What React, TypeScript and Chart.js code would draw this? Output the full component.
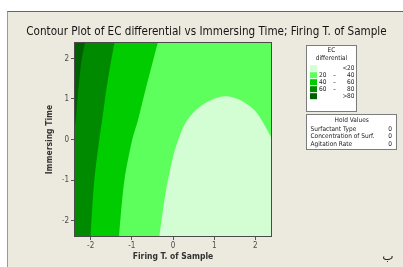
import React, { useEffect, useRef } from 'react';
import { Chart, registerables } from 'chart.js';

Chart.register(...registerables);

const FONT = '"DejaVu Sans Condensed", "DejaVu Sans", sans-serif';

const titleText = 'Contour Plot of EC differential vs Immersing Time; Firing T. of Sample';
const xTitle = 'Firing T. of Sample';
const yTitle = 'Immersing Time';
const axisMin = -2.38;
const axisMax = 2.38;
const tickValues = [-2, -1, 0, 1, 2];
const domainLo = -3;
const domainHi = 3;

// legend (lightest to darkest)
const legendHeader = ['EC', 'differential'];
const legendLow = ['', '20', '40', '60', ''];
const legendSep = ['<', '–', '–', '–', '>'];
const legendHigh = ['20', '40', '60', '80', '80'];
const levelColors = ['#d3fed3', '#5cff5c', '#00cc00', '#008a00', '#005f00'];

const holdTitle = 'Hold Values';
const holdFactors = ['Surfactant Type', 'Concentration of Surf.', 'Agitation Rate'];
const holdValues = [0, 0, 0];

const cornerMark = 'ب';

// contour boundaries (data coordinates)
const c20X = [-0.34, -0.33, -0.29, -0.17, 0.0, 0.13, 0.295, 0.55, 0.91, 1.275, 1.64, 1.98, 2.2, 2.38, 2.55];
const c20Y = [-2.6, -2.38, -2.07, -1.25, -0.43, 0.0, 0.395, 0.72, 0.97, 1.07, 0.97, 0.72, 0.395, 0.06, -0.3];
const c40X = [-1.32, -1.31, -1.28, -1.18, -0.99, -0.85, -0.67, -0.48, -0.37, -0.3];
const c40Y = [-2.6, -2.38, -2.0, -1.0, 0.0, 0.48, 1.22, 1.96, 2.38, 2.6];
const c60X = [-2.01, -2.0, -1.98, -1.91, -1.79, -1.72, -1.62, -1.5, -1.42, -1.37];
const c60Y = [-2.6, -2.38, -2.0, -1.0, 0.0, 0.48, 1.22, 1.96, 2.38, 2.6];
const c80X = [-2.43, -2.38, -2.36, -2.3, -2.22, -2.14, -2.1];
const c80Y = [0.0, 0.35, 0.48, 1.22, 1.96, 2.38, 2.6];

type P = { x: number; y: number };
const pts = (xs: number[], ys: number[]): P[] => xs.map((x, i) => ({ x, y: ys[i] }));
const leftRegion = (xs: number[], ys: number[]): P[] => [
  ...pts(xs, ys),
  { x: domainLo, y: domainHi },
  { x: domainLo, y: domainLo },
];
const rightLowRegion = (xs: number[], ys: number[]): P[] => [
  ...pts(xs, ys),
  { x: domainHi, y: domainLo },
];
const fullRegion: P[] = [
  { x: domainLo, y: domainLo },
  { x: domainHi, y: domainLo },
  { x: domainHi, y: domainHi },
  { x: domainLo, y: domainHi },
];

const legendPlugin = {
  id: 'contourLegend',
  afterDraw(chart: any) {
    const ctx = chart.ctx as CanvasRenderingContext2D;
    const ca = chart.chartArea;
    ctx.save();
    // plot frame
    ctx.strokeStyle = '#4a4a4a';
    ctx.lineWidth = 1;
    ctx.strokeRect(Math.round(ca.left) - 0.5, Math.round(ca.top) - 0.5, Math.round(ca.right - ca.left) + 1, Math.round(ca.bottom - ca.top) + 1);

    // level legend
    ctx.fillStyle = '#ffffff';
    ctx.fillRect(306, 45, 51, 67);
    ctx.strokeStyle = '#7c7c7c';
    ctx.strokeRect(306.5, 45.5, 50, 66);
    ctx.font = `6.5px ${FONT}`;
    ctx.textBaseline = 'middle';
    ctx.fillStyle = '#222';
    ctx.textAlign = 'center';
    ctx.fillText(legendHeader[0], 331.5, 50);
    ctx.fillText(legendHeader[1], 331.5, 58.5);
    levelColors.forEach((c, i) => {
      const yc = 68.2 + i * 7;
      ctx.fillStyle = c;
      ctx.fillRect(310, yc - 3, 7, 6);
      ctx.fillStyle = '#222';
      ctx.textAlign = 'right';
      ctx.fillText(legendLow[i], 326.5, yc);
      ctx.textAlign = 'center';
      const single = legendLow[i] === '';
      ctx.fillText(legendSep[i], single ? 345 : 334.5, yc);
      ctx.textAlign = 'right';
      ctx.fillText(legendHigh[i], 354.5, yc);
    });

    // hold values
    ctx.fillStyle = '#ffffff';
    ctx.fillRect(306, 114, 91, 36);
    ctx.strokeStyle = '#7c7c7c';
    ctx.strokeRect(306.5, 114.5, 90, 35);
    ctx.fillStyle = '#222';
    ctx.textAlign = 'center';
    ctx.fillText(holdTitle, 351.7, 120.5);
    holdFactors.forEach((f, i) => {
      const yc = 129.5 + i * 7.3;
      ctx.textAlign = 'left';
      ctx.fillText(f, 310.5, yc);
      ctx.textAlign = 'center';
      ctx.fillText(String(holdValues[i]), 390, yc);
    });

    // corner mark
    ctx.font = `12px "DejaVu Sans", sans-serif`;
    ctx.textAlign = 'center';
    ctx.textBaseline = 'alphabetic';
    ctx.fillStyle = '#222';
    ctx.fillText(cornerMark, 388, 260);
    ctx.restore();
  },
};

export default function App() {
  const ref = useRef<HTMLCanvasElement>(null);

  useEffect(() => {
    const common = {
      showLine: true,
      fill: 'shape' as any,
      borderWidth: 0,
      pointRadius: 0,
      tension: 0.3,
      yAxisID: 'y',
    };
    const tickSetter = (s: any) => {
      s.ticks = tickValues.map((v) => ({ value: v }));
    };
    const chart = new Chart(ref.current as HTMLCanvasElement, {
      type: 'line',
      data: {
        datasets: [
          { ...common, label: '< 20', data: rightLowRegion(c20X, c20Y), backgroundColor: levelColors[0], borderColor: levelColors[0], order: 1 },
          { ...common, label: '> 80', data: leftRegion(c80X, c80Y), backgroundColor: levelColors[4], borderColor: levelColors[4], order: 2 },
          { ...common, label: '60 - 80', data: leftRegion(c60X, c60Y), backgroundColor: levelColors[3], borderColor: levelColors[3], order: 3 },
          { ...common, label: '40 - 60', data: leftRegion(c40X, c40Y), backgroundColor: levelColors[2], borderColor: levelColors[2], order: 4 },
          { ...common, label: '20 - 40', data: fullRegion, backgroundColor: levelColors[1], borderColor: levelColors[1], order: 5 },
        ],
      },
      options: {
        responsive: false,
        animation: false,
        events: [],
        elements: { line: { capBezierPoints: false } },
        layout: { padding: { left: 10, right: 0, top: 0, bottom: 0 } },
        plugins: {
          legend: { display: false },
          tooltip: { enabled: false },
          title: {
            display: true,
            text: titleText,
            color: '#141414',
            font: { family: FONT, size: 11.6, weight: 'normal', lineHeight: 1.2 },
            padding: { top: 24.7, bottom: 4.4 },
          },
        },
        scales: {
          x: {
            type: 'linear',
            min: axisMin,
            max: axisMax,
            afterBuildTicks: tickSetter,
            afterFit: (s: any) => {
              s.height = 31;
            },
            grid: { display: true, drawOnChartArea: false, drawTicks: true, tickLength: 4, color: '#555' },
            border: { display: false },
            ticks: { color: '#4a4a4a', font: { family: FONT, size: 8 }, padding: 1, maxRotation: 0 },
            title: {
              display: true,
              text: xTitle,
              color: '#333',
              font: { family: FONT, size: 8.5, weight: 'bold', lineHeight: 1.2 },
              padding: { top: 0, bottom: 5.2 },
            },
          },
          y: {
            type: 'linear',
            position: 'left',
            min: axisMin,
            max: axisMax,
            afterBuildTicks: tickSetter,
            afterFit: (s: any) => {
              s.width = 65;
            },
            grid: { display: true, drawOnChartArea: false, drawTicks: true, tickLength: 4, color: '#555' },
            border: { display: false },
            ticks: { color: '#4a4a4a', font: { family: FONT, size: 8 }, padding: 2 },
            title: {
              display: true,
              text: yTitle,
              color: '#333',
              font: { family: FONT, size: 8.5, weight: 'bold', lineHeight: 1.2 },
              padding: { top: 34.9, bottom: 0 },
            },
          },
          y2: {
            type: 'linear',
            position: 'right',
            display: true,
            grid: { display: false },
            border: { display: false },
            ticks: { display: false },
            afterFit: (s: any) => {
              s.width = 132;
            },
          },
        },
      } as any,
      plugins: [legendPlugin],
    });
    return () => chart.destroy();
  }, []);

  return (
    <div style={{ position: 'fixed', left: 0, top: 0, width: 403, height: 267, background: '#ffffff', overflow: 'hidden' }}>
      <div
        style={{
          position: 'absolute',
          left: 7,
          top: 11,
          right: 0,
          bottom: 0,
          background: '#ece9df',
          borderTop: '1px solid #666',
          borderLeft: '1px solid #9a9a9a',
        }}
      />
      <canvas ref={ref} width={403} height={267} style={{ position: 'absolute', left: 0, top: 0, width: 403, height: 267 }} />
    </div>
  );
}
